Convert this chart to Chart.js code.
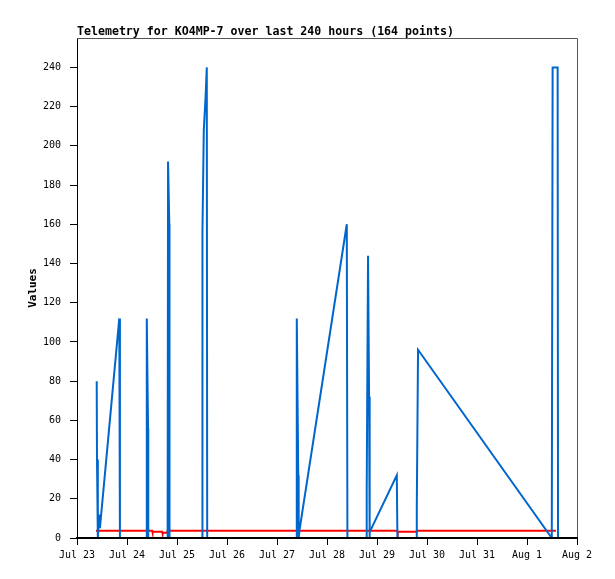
<!DOCTYPE html>
<html>
<head>
<meta charset="utf-8">
<script src="https://cdn.jsdelivr.net/npm/chart.js@4/dist/chart.umd.min.js"></script>
<style>
  html, body { margin: 0; padding: 0; background: #fff; }
  canvas { display: block; }
</style>
</head>
<body>
<canvas id="c" width="615" height="579"></canvas>
<script>
const chartTitle = "Telemetry for KO4MP-7 over last 240 hours (164 points)";
const yAxisTitle = "Values";
// x = hours since Jul 23 00:00
const xTickLabels = ["Jul 23", "Jul 24", "Jul 25", "Jul 26", "Jul 27", "Jul 28", "Jul 29", "Jul 30", "Jul 31", "Aug 1", "Aug 2"];
const yTickValues = [0, 20, 40, 60, 80, 100, 120, 140, 160, 180, 200, 220, 240];

const blueHours = [
  9.46, 9.6, 10.0, 10.7, 11.0, 20.3, 20.6,
  33.2, 33.5, 34.1, 34.2,
  43.5, 43.7, 44.3, 44.4,
  60.0, 60.14, 60.29, 60.86, 61.68, 62.3, 62.5,
  105.3, 105.5, 106.2, 106.4, 106.8, 129.5, 129.8,
  138.96, 139.06, 139.7, 140.2, 140.35, 140.6, 153.5, 153.8,
  162.9, 163.1, 163.7, 227.9, 228.3, 230.7, 230.9
];
const blueValues = [
  80, 40, 0, 12, 5, 112, 0,
  0, 112, 56, 0,
  0, 192, 160, 0,
  0, 52, 156, 208, 224, 240, 0,
  0, 112, 32, 0, 4, 160, 0,
  0, 24, 144, 72, 0, 3, 32, 0,
  0, 16, 96, 0, 240, 240, 0
];

const redHours = [9.1, 36.1, 36.2, 40.9, 41.0, 43.4, 43.5, 153.8, 153.9, 163.0, 163.1, 229.9];
const redValues = [3.7, 3.7, 3.2, 3.2, 2.7, 2.7, 3.7, 3.7, 3.2, 3.2, 3.7, 3.7];

function pts(xs, ys) { return xs.map((x, i) => ({ x: x, y: ys[i] })); }

const MONO = "'DejaVu Sans Mono', monospace";

const decorPlugin = {
  id: 'decor',
  beforeDatasetsDraw(chart) {
    const { ctx, chartArea: a } = chart;
    ctx.save();
    ctx.strokeStyle = '#555555';
    ctx.lineWidth = 1;
    ctx.beginPath();
    ctx.moveTo(a.left, a.top + 0.5);
    ctx.lineTo(a.right + 0.5, a.top + 0.5);
    ctx.lineTo(a.right + 0.5, a.bottom);
    ctx.stroke();
    ctx.restore();
  },
  afterDraw(chart) {
    const { ctx, chartArea: a } = chart;
    ctx.save();
    ctx.fillStyle = '#000';
    ctx.font = "bold 11.6px " + MONO;
    ctx.textAlign = 'left';
    ctx.textBaseline = 'alphabetic';
    ctx.fillText(chartTitle, a.left, 35);
    ctx.font = "bold 11px " + MONO;
    ctx.translate(33, (a.top + a.bottom) / 2);
    ctx.rotate(-Math.PI / 2);
    ctx.textAlign = 'center';
    ctx.textBaseline = 'middle';
    ctx.fillText(yAxisTitle, 0, 0);
    ctx.restore();
  }
};

new Chart(document.getElementById('c'), {
  type: 'line',
  data: {
    datasets: [
      {
        data: pts(blueHours, blueValues),
        borderColor: '#0066cc',
        borderWidth: 2,
        pointRadius: 0,
        tension: 0,
        fill: false
      },
      {
        data: pts(redHours, redValues),
        borderColor: '#ff0000',
        borderWidth: 2,
        pointRadius: 0,
        tension: 0,
        fill: false
      }
    ]
  },
  options: {
    responsive: false,
    animation: false,
    devicePixelRatio: 1,
    layout: { padding: { top: 38, right: 38, left: 0, bottom: 0 } },
    plugins: {
      legend: { display: false },
      tooltip: { enabled: false },
      title: { display: false }
    },
    scales: {
      x: {
        type: 'linear',
        min: 0,
        max: 240,
        afterFit(s) { s.height = 41; },
        ticks: {
          stepSize: 24,
          autoSkip: false,
          maxRotation: 0,
          padding: 4,
          color: '#000',
          font: { family: MONO, size: 10 },
          callback: (v) => xTickLabels[Math.round(v / 24)]
        },
        grid: { drawOnChartArea: false, drawTicks: true, tickLength: 7, color: '#000', tickWidth: 1 },
        border: { display: true, color: '#000', width: 2, z: 1 }
      },
      y: {
        type: 'linear',
        min: 0,
        max: 255,
        afterFit(s) { s.width = 77; },
        afterBuildTicks(s) { s.ticks = yTickValues.map(v => ({ value: v })); },
        ticks: {
          stepSize: 20,
          padding: 9,
          color: '#000',
          font: { family: MONO, size: 10 }
        },
        grid: { drawOnChartArea: false, drawTicks: true, tickLength: 7, color: '#000', tickWidth: 1 },
        border: { display: true, color: '#000', width: 1 }
      }
    }
  },
  plugins: [decorPlugin]
});
</script>
</body>
</html>
